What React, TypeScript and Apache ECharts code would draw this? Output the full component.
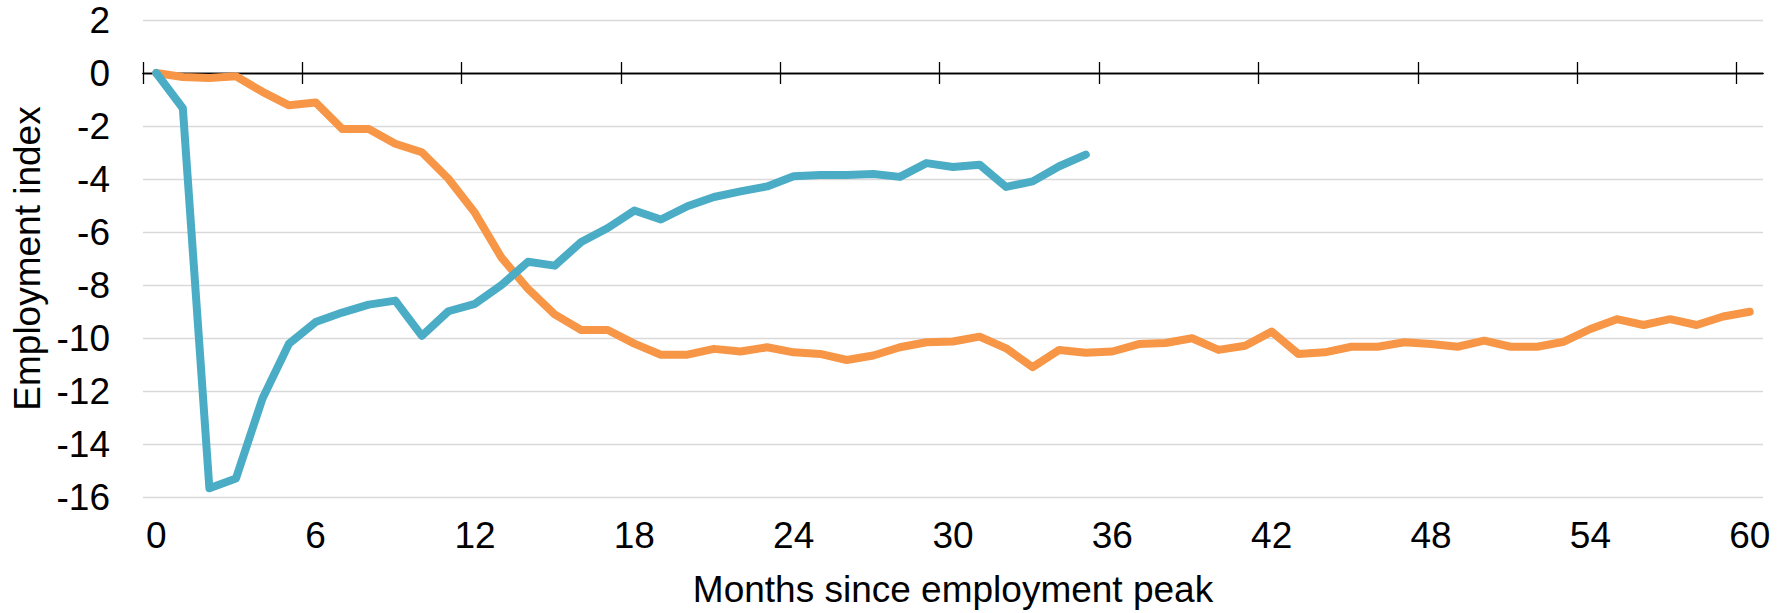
import React, { useEffect, useRef } from "react";
import * as echarts from "echarts";

const months: string[] = Array.from({ length: 61 }, (_, i) => String(i));
// category boundaries (left edge of month k), used only for the tick marks on the zero line
const monthBoundaries: string[] = Array.from({ length: 62 }, (_, i) => String(i));

const blueSeries: number[] = [
  0, -1.33, -15.67, -15.3, -12.28, -10.21, -9.4, -9.04, -8.74, -8.59,
  -9.92, -8.99, -8.71, -8.0, -7.12, -7.27, -6.38, -5.85, -5.19, -5.53,
  -5.03, -4.68, -4.47, -4.28, -3.9, -3.85, -3.85, -3.81, -3.92, -3.4,
  -3.55, -3.46, -4.3, -4.09, -3.52, -3.08,
];

const orangeSeries: number[] = [
  0, -0.15, -0.19, -0.12, -0.71, -1.22, -1.11, -2.11, -2.11, -2.67,
  -2.99, -3.99, -5.28, -6.97, -8.15, -9.11, -9.7, -9.7, -10.21, -10.63,
  -10.63, -10.41, -10.51, -10.35, -10.54, -10.6, -10.83, -10.66, -10.35, -10.16,
  -10.13, -9.95, -10.39, -11.1, -10.45, -10.56, -10.51, -10.23, -10.19, -10.01,
  -10.45, -10.29, -9.76, -10.6, -10.54, -10.33, -10.33, -10.16, -10.23, -10.33,
  -10.1, -10.33, -10.33, -10.14, -9.66, -9.29, -9.51, -9.29, -9.51, -9.19,
  -9.01,
];

const FONT = "'Liberation Sans', Arial, sans-serif";
const FS = 37;

export default function App() {
  const ref = useRef<HTMLDivElement>(null);
  useEffect(() => {
    if (!ref.current) return;
    const chart = echarts.init(ref.current, undefined, { renderer: "svg" });
    const tickAxis = (position: "top" | "bottom") => ({
      type: "category",
      data: monthBoundaries,
      position,
      boundaryGap: false,
      axisLine: {
        show: true,
        onZero: true,
        onZeroAxisIndex: 0,
        lineStyle: { color: "#000", width: 1.3 },
      },
      axisTick: {
        show: true,
        interval: 5,
        length: 11,
        inside: false,
        lineStyle: { color: "#000", width: 1.3 },
      },
      axisLabel: { show: false, interval: 5, showMinLabel: false, showMaxLabel: false },
      splitLine: { show: false },
    });
    chart.setOption({
      animation: false,
      backgroundColor: "#ffffff",
      textStyle: { fontFamily: FONT },
      grid: { left: 143, right: 23, top: 20, bottom: 113, containLabel: false },
      xAxis: [
        {
          type: "category",
          data: months,
          position: "bottom",
          boundaryGap: true,
          axisLine: { show: false, onZero: false },
          axisTick: { show: false },
          axisLabel: {
            interval: 5,
            fontSize: FS,
            color: "#000",
            margin: 20,
            fontFamily: FONT,
          },
          splitLine: { show: false },
          name: "Months since employment peak",
          nameLocation: "middle",
          nameGap: 74,
          nameTextStyle: { fontSize: FS, color: "#000", fontFamily: FONT },
        },
        tickAxis("bottom"),
        tickAxis("top"),
      ],
      yAxis: {
        type: "value",
        min: -16,
        max: 2,
        interval: 2,
        axisLine: { show: false },
        axisTick: { show: false },
        axisLabel: { fontSize: FS, color: "#000", margin: 33, fontFamily: FONT },
        splitLine: { show: true, lineStyle: { color: "#d9d9d9", width: 1.3 } },
        name: "Employment index",
        nameLocation: "middle",
        nameGap: 92,
        nameTextStyle: { fontSize: FS, color: "#000", fontFamily: FONT },
      },
      series: [
        {
          name: "Orange",
          type: "line",
          xAxisIndex: 0,
          data: orangeSeries,
          showSymbol: false,
          symbol: "none",
          lineStyle: { color: "#F79646", width: 8, cap: "round", join: "round" },
          itemStyle: { color: "#F79646" },
        },
        {
          name: "Blue",
          type: "line",
          xAxisIndex: 0,
          data: blueSeries,
          showSymbol: false,
          symbol: "none",
          lineStyle: { color: "#4BACC6", width: 8, cap: "round", join: "round" },
          itemStyle: { color: "#4BACC6" },
        },
      ],
    });
    return () => chart.dispose();
  }, []);
  return (
    <div
      ref={ref}
      style={{ position: "fixed", left: 0, top: 0, width: 1786, height: 613, background: "#fff" }}
    />
  );
}
